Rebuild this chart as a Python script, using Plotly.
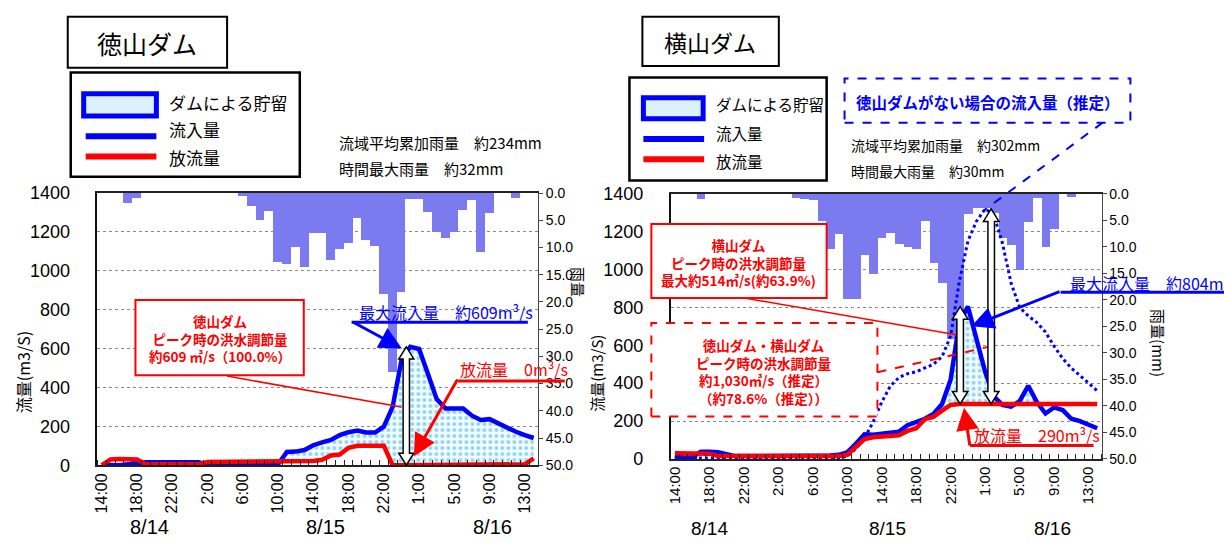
import numpy as np
import plotly.graph_objects as go

# ---------------- data ----------------
categories = ["14:00", "15:00", "16:00", "17:00", "18:00", "19:00", "20:00", "21:00", "22:00", "23:00",
              "0:00", "1:00", "2:00", "3:00", "4:00", "5:00", "6:00", "7:00", "8:00", "9:00",
              "10:00", "11:00", "12:00", "13:00", "14:00", "15:00", "16:00", "17:00", "18:00", "19:00",
              "20:00", "21:00", "22:00", "23:00", "24:00", "0:00", "1:00", "2:00", "3:00", "4:00",
              "5:00", "6:00", "7:00", "8:00", "9:00", "10:00", "11:00", "12:00", "13:00", "14:00"]
date_labels = ["8/14", "8/15", "8/16"]

# 徳山ダム
rain_toku = [0, 0, 0, 1.8, 0.9, 0, 0, 0, 0, 0, 0, 0, 0, 0, 0, 0,
             0.5, 2.4, 5.0, 3.3, 12.6, 13.1, 10.0, 13.6, 7.3, 7.3,
             12.3, 10.3, 9.1, 4.5, 8.6, 9.8, 18.6, 32.8, 18.2, 1.1,
             1.1, 3.4, 7.1, 8.2, 7.1, 3.1, 1.2, 10.8, 3.7, 0,
             0, 0.9, 0, 0]
inflow_toku = [3, 0, 0, 5, 12, 15, 15, 15, 15, 15, 15, 15, 3, 3, 3, 3, 3, 3, 3, 3,
               5, 68, 70, 78, 103, 118, 130, 155, 170, 178, 168, 168, 198, 300, 540,
               609, 598, 470, 340, 292, 292, 292, 255, 233, 237, 215, 190, 172, 155, 140]
outflow_toku = [0, 30, 32, 32, 30, 5, 5, 5, 5, 5, 5, 5, 17, 17, 17, 17, 17, 17, 17, 17,
                17, 17, 17, 20, 22, 28, 50, 55, 90, 100, 100, 100, 100, 0, 0,
                0, 0, 0, 0, 0, 0, 0, 0, 0, 0, 0, 0, 0, 5, 35]

# 横山ダム
rain_yoko = [0, 0, 0, 1.0, 0, 0, 0, 0, 0, 0, 0, 0, 0, 0,
             0.8, 1.0, 1.1, 5.0, 10.3, 7.6, 19.7, 19.8, 11.5, 15.0,
             8.2, 7.3, 9.5, 10.0, 10.3, 5.0, 13.1, 16.8, 27.4, 26.0,
             3.8, 2.6, 2.6, 3.5, 8.3, 9.6, 14.4, 5.3, 0.8, 10.0,
             6.6, 0, 0.5, 0, 0, 0]
inflow_yoko = [15, 8, 8, 38, 38, 36, 25, 15, 15, 15, 15, 15, 15, 15, 15, 15, 15, 15, 18, 22,
               35, 80, 130, 128, 132, 137, 144, 178, 195, 212, 238, 290, 420, 720, 804,
               640, 460, 330, 285, 276, 305, 386, 300, 240, 272, 258, 212, 200, 178, 162]
outflow_yoko = [30, 30, 30, 30, 28, 15, 15, 15, 15, 15, 15, 15, 15, 15, 15, 15, 15, 15, 15, 15,
                22, 60, 105, 115, 118, 120, 125, 148, 162, 210, 222, 255, 285, 290, 290,
                290, 290, 290, 290, 290, 290, 290, 290, 290, 290, 290, 290, 290, 290, 290]
inflow_yoko_no_toku = [5, 5, 5, 5, 5, 5, 5, 5, 5, 5, 5, 5, 5, 5, 5, 5, 5, 5, 5, 5,
                       14, 55, 110, 195, 300, 385, 430, 450, 460, 480, 500, 540, 650, 935, 1150,
                       1255, 1320, 1290, 1140, 930, 800, 755, 720, 670, 595, 530, 480, 440, 400, 360]

# ---------------- layout helpers ----------------
W, H = 1224, 547
JP = "Noto Sans CJK JP"
NUM = "Liberation Sans, Arial, sans-serif"
BLUE = "#0000ff"
RED = "#ff0000"
RAIN_C = "#7b7bef"


def X(p):
    return p / W


def Y(p):
    return 1 - p / H


# plot-area pixel boxes (left, right, top, bottom)
LB = (92.75, 535.25, 190.0, 472.5)
RB = (668.3, 1101.0, 190.7, 466.0)
NCAT = len(categories)
FMAX = 1400


def dpx(box, x):
    return box[0] + (box[1] - box[0]) * x / NCAT


def dpy(box, f):
    return box[3] - (box[3] - box[2]) * f / FMAX


xc = [i + 0.5 for i in range(NCAT)]
tickpos = xc[::4]
ticklab = categories[::4]

fill_pat = dict(shape=".", fgcolor="#22aee4", bgcolor="#f5fcff", size=6, solidity=0.33)

fig = go.Figure()


def add_chart(xa, ya_rain, ya_flow, rain, inflow, outflow, extra=None):
    fig.add_trace(go.Bar(x=xc, y=rain, width=1, marker=dict(color=RAIN_C, line=dict(width=0)),
                         xaxis=xa, yaxis=ya_rain, hoverinfo="skip", showlegend=False))
    upper = np.maximum(np.array(inflow, float), np.array(outflow, float))
    fig.add_trace(go.Scatter(x=xc, y=outflow, mode="lines", line=dict(width=0, color=RED),
                             xaxis=xa, yaxis=ya_flow, hoverinfo="skip", showlegend=False))
    fig.add_trace(go.Scatter(x=xc, y=upper, mode="lines", line=dict(width=0, color=BLUE),
                             fill="tonexty", fillpattern=fill_pat, fillcolor="rgba(0,0,0,0)",
                             xaxis=xa, yaxis=ya_flow, hoverinfo="skip", showlegend=False))
    if extra is not None:
        fig.add_trace(go.Scatter(x=xc, y=extra, mode="lines", line=dict(width=3, color=BLUE, dash="dot"),
                                 xaxis=xa, yaxis=ya_flow, showlegend=False))
    fig.add_trace(go.Scatter(x=xc, y=inflow, mode="lines", line=dict(width=4.5, color=BLUE),
                             xaxis=xa, yaxis=ya_flow, showlegend=False))
    fig.add_trace(go.Scatter(x=xc, y=outflow, mode="lines", line=dict(width=4.5, color=RED),
                             xaxis=xa, yaxis=ya_flow, showlegend=False))


add_chart("x", "y", "y2", rain_toku, inflow_toku, outflow_toku)
add_chart("x2", "y3", "y4", rain_yoko, inflow_yoko, outflow_yoko, inflow_yoko_no_toku)


def xaxis_cfg(box, fs):
    return dict(domain=[X(box[0]), X(box[1])], range=[0, NCAT], tickmode="array",
                tickvals=tickpos, ticktext=ticklab, tickangle=-90, ticks="",
                showline=True, linecolor="#222", linewidth=1.5, mirror=True,
                showgrid=False, zeroline=False,
                tickfont=dict(size=fs, family=NUM, color="black"),
                minor=dict(ticks="inside", tickmode="linear", tick0=0, dtick=1,
                           ticklen=5, tickcolor="#222", tickwidth=1, showgrid=False))


def rain_cfg(box, anchor):
    return dict(domain=[Y(box[3]), Y(box[2])], range=[50, 0], anchor=anchor, side="right",
                tick0=0, dtick=5, tickformat=".1f", ticks="outside", ticklen=4,
                tickcolor="#444", showgrid=False, zeroline=False, showline=True,
                linecolor="#444", linewidth=1,
                tickfont=dict(size=14, family=NUM, color="black"))


def flow_cfg(over, anchor):
    return dict(overlaying=over, anchor=anchor, side="left", range=[0, FMAX], dtick=200,
                showgrid=True, gridcolor="#8a8a8a", griddash="dot", gridwidth=1,
                zeroline=False, showline=True, linecolor="#111", linewidth=1.5, ticks="",
                ticklabelstandoff=22,
                tickfont=dict(size=18, family=NUM, color="black"))


fig.update_layout(
    width=W, height=H, margin=dict(l=0, r=0, t=0, b=0),
    paper_bgcolor="white", plot_bgcolor="white", bargap=0, showlegend=False,
    xaxis=dict(xaxis_cfg(LB, 16), anchor="y"),
    yaxis=rain_cfg(LB, "x"),
    yaxis2=flow_cfg("y", "x"),
    xaxis2=dict(xaxis_cfg(RB, 15), anchor="y3"),
    yaxis3=rain_cfg(RB, "x2"),
    yaxis4=flow_cfg("y3", "x2"),
)

shapes = []
ann = []


def rect(x0, y0, x1, y1, color="black", width=2, fill="white", dash="solid"):
    shapes.append(dict(type="rect", xref="paper", yref="paper", x0=X(x0), x1=X(x1), y0=Y(y1), y1=Y(y0),
                       line=dict(color=color, width=width, dash=dash), fillcolor=fill, layer="above"))


def pline(x0, y0, x1, y1, color, width, dash="solid"):
    shapes.append(dict(type="line", xref="paper", yref="paper", x0=X(x0), x1=X(x1), y0=Y(y0), y1=Y(y1),
                       line=dict(color=color, width=width, dash=dash), layer="above"))


def text(x, y, s, size, color="black", xanchor="center", bold=False, angle=0, family=JP, align="center"):
    if bold:
        s = "<b>" + s.replace("<br>", "</b><br><b>") + "</b>"
    ann.append(dict(xref="paper", yref="paper", x=X(x), y=Y(y), text=s, showarrow=False,
                    xanchor=xanchor, yanchor="middle", textangle=angle, align=align,
                    font=dict(family=family, size=size, color=color)))


def dbl_arrow(xref, yref, x, y0, y1, sw, hw, hl):
    p = (f"M {x-sw},{y0+hl} L {x-hw},{y0+hl} L {x},{y0} L {x+hw},{y0+hl} L {x+sw},{y0+hl} "
         f"L {x+sw},{y1-hl} L {x+hw},{y1-hl} L {x},{y1} L {x-hw},{y1-hl} L {x-sw},{y1-hl} Z")
    shapes.append(dict(type="path", xref=xref, yref=yref, path=p, fillcolor="white",
                       line=dict(color="black", width=1.5), layer="above"))


def arrow(xref, yref, box, hx, hy, tx, ty, color):
    ann.append(dict(xref=xref, yref=yref, x=hx, y=hy, text="", showarrow=True,
                    ax=tx - dpx(box, hx), ay=ty - dpy(box, hy), axref="pixel", ayref="pixel",
                    arrowhead=2, arrowsize=1.5, arrowwidth=3, arrowcolor=color, standoff=0))


# ======== left chart (徳山ダム) ========
rect(63, 7, 223, 60, width=2)
text(143, 34, "徳山ダム", 25)
rect(66, 65, 296, 173, width=2.5)
rect(79, 87, 152, 110, color=BLUE, width=5, fill="#dcf2fb")
text(163, 96, "ダムによる貯留", 17, xanchor="left")
pline(81, 131, 152, 131, BLUE, 6)
text(163, 124, "流入量", 17, xanchor="left")
pline(81, 152, 152, 152, RED, 6)
text(163, 153, "放流量", 17, xanchor="left")
text(333, 138, "流域平均累加雨量　約234mm", 15, xanchor="left")
text(333, 165, "時間最大雨量　約32mm", 15, xanchor="left")

pline(223, 380, 398, 412, RED, 1.5)
rect(131, 301, 300, 379, color=RED, width=2)
text(216, 341, "徳山ダム<br>ピーク時の洪水調節量<br>約609 ㎥/s（100.0%）", 13.5, color=RED, bold=True)

pk = int(np.argmax(inflow_toku))
dbl_arrow("x", "y2", 35.05, outflow_toku[pk], inflow_toku[pk], 0.36, 0.85, 62)

pline(348, 324, 525, 324, BLUE, 3)
text(443, 313, "最大流入量　約609m³/s", 16, color=BLUE)
arrow("x", "y2", LB, 34.55, 600, 348, 324, BLUE)

pline(455, 385, 562, 385, RED, 3)
text(455, 373, "放流量　0m³/s", 16, color=RED, xanchor="left")
arrow("x", "y2", LB, 35.9, 45, 455, 385, RED)

text(18, 376, "流量(m3/S)", 16, angle=-90)
text(576, 282, "雨量", 15, angle=90)
text(145, 537, date_labels[0], 20, family=NUM)
text(322, 537, date_labels[1], 20, family=NUM)
text(489, 537, date_labels[2], 20, family=NUM)

# ======== right chart (横山ダム) ========
rect(640, 7, 777, 58, width=2)
text(708, 33, "横山ダム", 23)
rect(627, 70, 825, 177, width=2.5)
rect(641, 91, 701, 113, color=BLUE, width=5, fill="#dcf2fb")
text(712, 98, "ダムによる貯留", 15.5, xanchor="left")
pline(641, 134, 702, 134, BLUE, 6)
text(712, 128, "流入量", 15.5, xanchor="left")
pline(641, 155, 702, 155, RED, 6)
text(712, 157, "放流量", 15.5, xanchor="left")

pline(1102, 117, 983, 208, BLUE, 2, dash="dash")
rect(843, 71, 1130, 117, color=BLUE, width=2, dash="dash")
text(987, 95, "徳山ダムがない場合の流入量（推定）", 15.5, color=BLUE, bold=True)
text(847, 140, "流域平均累加雨量　約302mm", 14, xanchor="left")
text(847, 167, "時間最大雨量　約30mm", 14, xanchor="left")

pline(737, 298, 955, 337, RED, 1.5)
pline(876, 376, 990, 349, RED, 2, dash="dash")
rect(649, 222, 825, 299, color=RED, width=2)
text(737, 262, "横山ダム<br>ピーク時の洪水調節量<br>最大約514㎥/s(約63.9%)", 13.5, color=RED, bold=True)
rect(649, 325, 876, 422, color=RED, width=2, dash="dash")
text(762, 375, "徳山ダム・横山ダム<br>ピーク時の洪水調節量<br>約1,030㎥/s（推定）<br>（約78.6%（推定））",
     13.5, color=RED, bold=True)

pk_r = int(np.argmax(inflow_yoko))
pk_n = int(np.argmax(inflow_yoko_no_toku))
dbl_arrow("x2", "y4", 33.6, outflow_yoko[pk_r], inflow_yoko[pk_r], 0.38, 0.9, 66)
dbl_arrow("x2", "y4", 37.2, outflow_yoko[pk_n], inflow_yoko_no_toku[pk_n], 0.38, 0.9, 66)

pline(1060, 293, 1224, 293, BLUE, 3)
text(1067, 283, "最大流入量　約804m³/s", 16, color=BLUE, xanchor="left")
arrow("x2", "y4", RB, 34.9, 700, 1060, 293, BLUE)

pline(969, 452, 1093, 452, RED, 3)
text(971, 441, "放流量　290m³/s", 16, color=RED, xanchor="left")
arrow("x2", "y4", RB, 34.05, 270, 969, 452, RED)

text(594, 377, "流量(m3/S)", 15, angle=-90)
text(1158, 346, "雨量(mm)", 15, angle=90)
text(707, 538, date_labels[0], 19, family=NUM)
text(886, 538, date_labels[1], 19, family=NUM)
text(1052, 538, date_labels[2], 19, family=NUM)

fig.update_layout(shapes=shapes, annotations=ann)
fig.write_html("out.html", config={"displayModeBar": False},
               post_script="document.body.style.margin='0px';document.body.style.padding='0px';")
